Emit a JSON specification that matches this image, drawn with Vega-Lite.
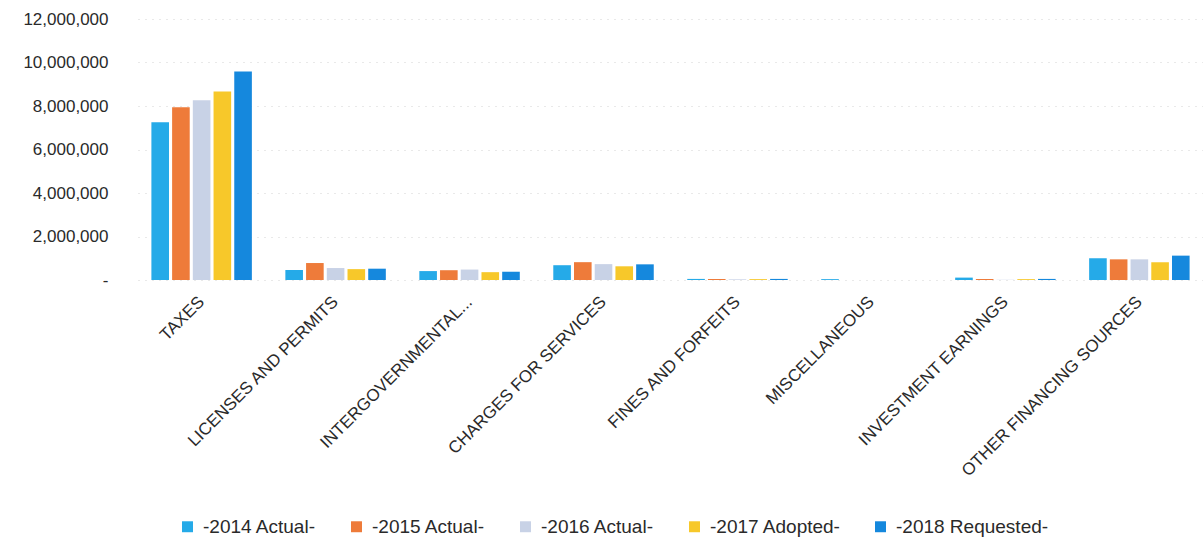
{
  "$schema": "https://vega.github.io/schema/vega-lite/v6.json",
  "width": 1065,
  "height": 261,
  "autosize": "none",
  "padding": {"left": 138, "top": 19, "right": 0, "bottom": 258},
  "background": "white",
  "config": {
    "view": {"stroke": null},
    "font": "Liberation Sans"
  },
  "data": {
    "values": [
      {"cat": "TAXES", "year": "-2014 Actual-", "v": 7250000},
      {"cat": "TAXES", "year": "-2015 Actual-", "v": 7940000},
      {"cat": "TAXES", "year": "-2016 Actual-", "v": 8260000},
      {"cat": "TAXES", "year": "-2017 Adopted-", "v": 8670000},
      {"cat": "TAXES", "year": "-2018 Requested-", "v": 9590000},
      {"cat": "LICENSES AND PERMITS", "year": "-2014 Actual-", "v": 460000},
      {"cat": "LICENSES AND PERMITS", "year": "-2015 Actual-", "v": 780000},
      {"cat": "LICENSES AND PERMITS", "year": "-2016 Actual-", "v": 550000},
      {"cat": "LICENSES AND PERMITS", "year": "-2017 Adopted-", "v": 500000},
      {"cat": "LICENSES AND PERMITS", "year": "-2018 Requested-", "v": 520000},
      {"cat": "INTERGOVERNMENTAL...", "year": "-2014 Actual-", "v": 410000},
      {"cat": "INTERGOVERNMENTAL...", "year": "-2015 Actual-", "v": 450000},
      {"cat": "INTERGOVERNMENTAL...", "year": "-2016 Actual-", "v": 480000},
      {"cat": "INTERGOVERNMENTAL...", "year": "-2017 Adopted-", "v": 360000},
      {"cat": "INTERGOVERNMENTAL...", "year": "-2018 Requested-", "v": 380000},
      {"cat": "CHARGES FOR SERVICES", "year": "-2014 Actual-", "v": 680000},
      {"cat": "CHARGES FOR SERVICES", "year": "-2015 Actual-", "v": 820000},
      {"cat": "CHARGES FOR SERVICES", "year": "-2016 Actual-", "v": 730000},
      {"cat": "CHARGES FOR SERVICES", "year": "-2017 Adopted-", "v": 630000},
      {"cat": "CHARGES FOR SERVICES", "year": "-2018 Requested-", "v": 720000},
      {"cat": "FINES AND FORFEITS", "year": "-2014 Actual-", "v": 50000},
      {"cat": "FINES AND FORFEITS", "year": "-2015 Actual-", "v": 45000},
      {"cat": "FINES AND FORFEITS", "year": "-2016 Actual-", "v": 30000},
      {"cat": "FINES AND FORFEITS", "year": "-2017 Adopted-", "v": 40000},
      {"cat": "FINES AND FORFEITS", "year": "-2018 Requested-", "v": 50000},
      {"cat": "MISCELLANEOUS", "year": "-2014 Actual-", "v": 40000},
      {"cat": "MISCELLANEOUS", "year": "-2015 Actual-", "v": 0},
      {"cat": "MISCELLANEOUS", "year": "-2016 Actual-", "v": 0},
      {"cat": "MISCELLANEOUS", "year": "-2017 Adopted-", "v": 0},
      {"cat": "MISCELLANEOUS", "year": "-2018 Requested-", "v": 0},
      {"cat": "INVESTMENT EARNINGS", "year": "-2014 Actual-", "v": 110000},
      {"cat": "INVESTMENT EARNINGS", "year": "-2015 Actual-", "v": 45000},
      {"cat": "INVESTMENT EARNINGS", "year": "-2016 Actual-", "v": 10000},
      {"cat": "INVESTMENT EARNINGS", "year": "-2017 Adopted-", "v": 40000},
      {"cat": "INVESTMENT EARNINGS", "year": "-2018 Requested-", "v": 50000},
      {"cat": "OTHER FINANCING SOURCES", "year": "-2014 Actual-", "v": 1000000},
      {"cat": "OTHER FINANCING SOURCES", "year": "-2015 Actual-", "v": 950000},
      {"cat": "OTHER FINANCING SOURCES", "year": "-2016 Actual-", "v": 950000},
      {"cat": "OTHER FINANCING SOURCES", "year": "-2017 Adopted-", "v": 820000},
      {"cat": "OTHER FINANCING SOURCES", "year": "-2018 Requested-", "v": 1120000}
    ]
  },
  "mark": {"type": "bar"},
  "encoding": {
    "x": {
      "field": "cat",
      "type": "nominal",
      "sort": null,
      "scale": {"paddingInner": 0.25, "paddingOuter": 0.1},
      "axis": {
        "title": null,
        "labelAngle": -45,
        "labelAlign": "right",
        "labelBaseline": "middle",
        "labelFontSize": 17,
        "labelColor": "#2a2a2a",
        "labelPadding": 19,
        "labelLimit": 400,
        "ticks": false,
        "domain": false
      }
    },
    "xOffset": {
      "field": "year",
      "type": "nominal",
      "sort": null,
      "scale": {"paddingInner": 0.15}
    },
    "y": {
      "field": "v",
      "type": "quantitative",
      "scale": {"domain": [0, 12000000]},
      "axis": {
        "title": null,
        "values": [0, 2000000, 4000000, 6000000, 8000000, 10000000, 12000000],
        "labelExpr": "datum.value == 0 ? '-' : format(datum.value, ',')",
        "labelFontSize": 17,
        "labelColor": "#2a2a2a",
        "labelPadding": 30,
        "ticks": false,
        "domain": false,
        "gridColor": "#c8c8c8",
        "gridDash": [1, 6],
        "gridOpacity": 0.8
      }
    },
    "color": {
      "field": "year",
      "type": "nominal",
      "sort": null,
      "scale": {
        "domain": ["-2014 Actual-", "-2015 Actual-", "-2016 Actual-", "-2017 Adopted-", "-2018 Requested-"],
        "range": ["#25AAE8", "#EE7B3A", "#C8D2E6", "#F7C82A", "#1588DD"]
      },
      "legend": {
        "title": null,
        "orient": "none",
        "direction": "horizontal",
        "legendX": 40,
        "legendY": 498,
        "symbolType": "square",
        "symbolSize": 120,
        "labelFontSize": 19,
        "labelColor": "#2a2a2a",
        "columnPadding": 30,
        "labelOffset": 6
      }
    }
  }
}
